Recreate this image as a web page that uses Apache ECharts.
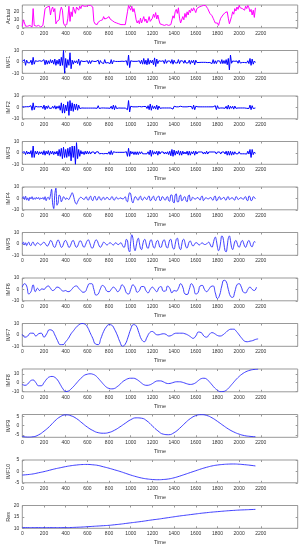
<!DOCTYPE html>
<html><head><meta charset="utf-8">
<script src="https://cdn.jsdelivr.net/npm/echarts@6/dist/echarts.min.js"></script>
<style>html,body{margin:0;padding:0;background:#fff}#c{width:302px;height:550px}</style>
</head><body><div id="c"></div>
<script>
// x tick labels
const xTicks = [0,200,400,600,800,1000,1200,1400,1600,1800,2000,2200];
const panelNames = ['Actual','IMF1','IMF2','IMF3','IMF4','IMF5','IMF6','IMF7','IMF8','IMF9','IMF10','Res'];

// Actual (step 10)
const actual = [
2,10,10,2,1,2,1,3,2,1,
24,3,1,2,1,3,2,1,2,3,
2,24,22,26,25,27,16,23,26,20,
24,5,8,6,10,21,26,22,6,3,
2,4,12,27,8,20,14,26,28,18,
26,27,22,27,24,28,26,27,28,27,
26,28,27,28,27,26,8,5,6,4,
7,6,9,7,10,14,11,13,12,10,
14,11,13,9,10,7,9,6,8,5,
6,4,5,4,6,4,5,20,28,26,
22,27,20,24,18,10,6,9,5,12,
6,10,14,8,11,6,9,14,8,10,
12,17,13,19,11,16,10,5,7,4,
6,3,5,4,6,3,5,4,6,15,
12,20,23,18,25,12,6,8,14,10,
18,13,20,16,22,19,24,21,25,22,
19,24,22,26,24,27,25,28,26,28,
27,24,22,18,20,15,12,9,6,4,
6,3,8,12,10,16,14,19,17,20,
12,5,7,14,20,17,24,21,26,23,
28,25,27,24,26,22,27,24,28,25,
20,23,16,22,13,25];

// IMF1 (step 10)
const imf1 = [
0.5,-1,2,-3,1.5,-0.8,0.5,-0.8,1.5,-2.5,
4,-2,1,-0.6,0.5,-0.8,1,-0.6,0.5,-1,
2,-2.5,1.5,-2,1,-1.5,2,-1,1.5,-2,
2.5,-3,1.5,-2,2.5,-3.5,4,-3,10,-10,
3,-5,2,-3,8,-6,1.5,-2,1,-0.8,
1,-1.5,2.5,-3,1,-0.5,0.4,-0.5,0.4,-0.6,
1,-1.5,1.2,-1.5,1,-0.6,0.4,-0.5,0.4,-0.8,
1.5,-2,1.2,-0.6,0.8,-1.5,2,-1,0.5,-0.6,
1,-1.5,2,-1.8,1,-0.6,0.4,-0.5,0.4,-0.5,
0.4,-0.5,0.6,-0.5,0.4,-0.6,1,-3,6,-5,
1,-0.6,0.5,-0.4,0.5,-0.6,0.5,-0.8,1,-1.5,
1.5,-2,3,-2,1.5,-2.5,3,-2,1.5,-1,
1.5,-2.5,3.5,-4,2.5,-1.5,1,-0.6,0.5,-0.8,
1,-1.5,2,-1.2,0.8,-0.6,0.8,-1.2,2,-2,
1.5,-0.8,0.6,-1,2,-1.5,1,-0.6,0.8,-1.2,
1.5,-1,0.6,-0.8,1.5,-2,1.2,-0.8,1.5,-2.5,
1.5,-0.6,0.4,-0.5,0.4,-0.4,0.5,-0.4,0.5,-0.4,
0.5,-0.6,0.4,-0.5,0.8,-1.5,2,-1.5,1,-1.5,
1,-0.6,0.8,-1.5,2,-1.5,1.2,-1.5,2,-2.5,
3,-7,6,-1.2,0.8,-0.6,0.5,-0.6,0.8,-1.2,
1.5,-1,0.6,-0.5,0.6,-0.5,0.6,-0.8,1,-1.5,
3,-3,2.5,-2,0.8,-0.5];

// IMF2 (step 10)
const imf2 = [
0.5,-0.6,0.5,-0.8,0.6,-0.5,0.6,-0.8,1.5,-2.5,
4,-2,1,-0.6,0.5,-0.6,0.5,-0.6,0.8,-1,
2,-2,1.2,-1,1.5,-0.8,0.6,-0.8,1,-0.8,
1.5,-1.5,1,-0.8,1.5,-2.5,4,-5,3,-5,
2,-3,5,-7,6,-3,4,-3.5,3,-2,
3,-2.5,2,-1,0.6,-0.5,1,-0.6,0.5,-0.6,
0.8,-0.6,1,-0.6,0.5,-0.6,0.5,-0.6,0.5,-0.8,
1.5,-1,0.6,-0.5,0.6,-0.5,1,-0.6,0.5,-0.6,
0.6,-0.8,1,-1.5,2,-2,1.5,-1,0.6,-0.5,
0.5,-0.6,0.5,-0.6,0.5,-0.6,0.8,-2,6,-4,
1,-0.6,0.5,-0.6,0.5,-0.6,0.5,-0.6,0.8,-0.6,
0.5,-0.6,0.8,-0.6,0.8,-1,1.5,-2,3,-2.5,
1.5,-1,1,-1.5,2,-2,1.2,-0.8,0.6,-0.5,
0.6,-0.5,0.6,-0.5,0.6,-0.5,0.6,-0.5,1,-1.5,
1,-0.6,0.5,-0.6,0.5,-0.6,1,-0.6,0.5,-0.6,
0.5,-0.6,0.5,-0.6,0.8,-0.6,0.8,-1.5,2,-2,
1,-0.6,0.5,-0.6,0.5,-0.6,0.5,-0.6,0.5,-0.6,
0.5,-0.6,0.5,-0.6,0.5,-0.6,0.5,-0.6,1.5,-2,
1.5,-0.8,0.6,-0.5,0.6,-0.5,0.6,-0.8,1,-1.5,
2,-1.5,1,-0.8,1,-1.5,1.2,-0.8,0.6,-0.5,
0.6,-0.5,0.6,-0.5,0.6,-0.5,0.6,-0.8,0.6,-1,
2,-2,1.5,-1,0.6,-0.5];

// IMF3 (step 10)
const imf3 = [
0.5,-0.8,1,-1.5,1.5,-1,0.8,-1,2,-4,
6,-4,1.5,-1,1.5,-1.5,1,-0.8,1,-1.5,
2,-2,1.5,-1,2,-2,1.5,-1,1.5,-1.5,
1,-1,1.5,-2.5,3,-3,4,-5,5,-4,
3,-4,4,-3,5,-7,6,-4,6,-10,
9,-5,3,-3,2,-1,1,-1.5,1.5,-1,
1.5,-1,1.2,-1,0.8,-0.6,0.8,-1,0.8,-0.6,
1,-0.8,0.6,-0.5,0.6,-0.8,0.6,-0.5,0.6,-0.8,
1,-1.5,2,-1.5,1,-0.6,0.5,-0.6,0.5,-0.6,
0.5,-0.6,0.5,-0.6,0.5,-0.6,1,-3,4,-3,
1.5,-0.8,1,-1.5,1,-1.5,1,-1.5,1,-0.8,
1,-0.8,0.6,-0.8,0.6,-0.8,1,-1.5,2.5,-3,
2,-1.2,1,-1,1.5,-2,1.5,-1,0.8,-0.6,
0.8,-1,0.8,-1,1,-1.5,1.5,-2.5,3,-3,
2.5,-2,1.5,-1,2,-2,1.5,-2,1.5,-1,
0.8,-1,1.5,-2,1.5,-2,1,-0.8,1.5,-2,
1.5,-1,0.8,-0.6,0.8,-0.6,0.8,-1,0.8,-1,
1.5,-1,0.8,-0.6,0.8,-0.6,0.8,-0.6,0.8,-1,
0.8,-0.6,0.8,-1,0.8,-0.6,0.8,-1,1.5,-2,
1.5,-2,1.5,-2,1,-1.5,1,-0.8,0.6,-0.8,
1,-0.8,0.6,-0.8,0.6,-0.8,0.6,-1,1.5,-1,
3,-4,3,-1.5,0.8,-0.5];

// IMF4 (step 10)
const imf4 = [
0,1.5,-1,2,-1.5,0.5,-2,1,-0.5,1.5,
-1,0.5,-0.8,1,-0.5,0.8,-1,0.5,-0.5,0.8,
-1,1.5,-2,0.5,1,-1,3,8,-5,-9,
4,9,-6,-4,3,2,-3,-1,1.5,0.5,
-1,0.5,-0.5,-1,1,3,5,3,-1,-4,
-5,-3,-1,0.5,1,0.5,-0.5,-1,0.5,1.5,
-1,-1.5,1,2,-1,-2,1,2,-1,-1.5,
1,1.5,-1,-1.5,0.5,1,-1,-0.5,1,0.5,
-1,-1,1,1.5,-1,-1.5,0.5,1,-0.5,-0.5,
0.5,0.3,-0.3,-0.5,0.5,1.5,-2,-3,2,5,
4,-2,-4,-1,1.5,1,-1,-1.5,1,2,
-1,-1.5,0.5,1,-0.5,-1,1.5,2,-2,-1.5,
1,2,-1,-2,0.5,1.5,2,-2,-1.5,1.5,
1,-1,-1.5,1,1.5,-2,-2.5,3,3,-3,
-4,3,4,-3,-3,2,3,-2,-1.5,1,
1.5,-2,-3,2,3,-2,-1.5,1,0.5,-0.5,
-0.5,0.5,0.8,-0.5,-1.5,1.5,2,-2,-1,0.5,
0.5,-0.5,-0.3,0.5,0.8,-1,-1.5,1.5,2,-2,
-1.5,1,1.5,-1,-0.5,0.5,1,-1,-1.5,1,
1.5,-1,-0.5,0.5,0.5,-1,-1.5,1.5,1,-1,
-0.5,0.5,0.5,-0.5,-0.8,1,1.5,-1.5,-2,2,
1.5,-2,-1.5,1.5,1,-0.5];

// IMF5 (step 10)
const imf5 = [
0,1.5,-1,1,-1.5,0.5,1.5,-1,-1.5,1,
1.5,-0.5,-1.5,0,1,0.5,-0.5,-1,0,1,
1.5,0.5,-1,-2,-1,1,3,2.5,0,-2.5,
-3,-1,2,3.5,2,-1,-3,-2.5,0,2.5,
3,1.5,-1,-3,-2.5,0,2.5,3,1,-2,
-3,-2,0.5,2.5,2.5,0.5,-2,-3,-1.5,1,
3,3.5,1.5,-1.5,-3.5,-3.5,-1,2,3.5,3,
0.5,-2,-3,-2,0,1.5,1,0,-1,-0.5,
0.5,1,0.5,-0.5,-1,0,1,0.5,-0.5,-0.5,
0.5,1,-0.5,-2.5,-3,0,4,3,-5,-7,
2,8,5,-3,-6,-2,3,5,1,-4,
-5,-1,3,4,1,-3,-4,-1,3,3.5,
0.5,-3,-3.5,-0.5,2.5,3,0,-3,-3,0,
3,3.5,0.5,-3,-3.5,0,3.5,4,0,-4,
-4.5,-0.5,4,5,1,-4,-5,-1,3.5,4,
1,-3,-3.5,-1,2,2.5,0.5,-1.5,-1.5,0,
1,1,0,-1,-0.5,0.5,1,0,-0.5,-0.5,
0,1,1.5,0,-2,-3,0,4,6,3,
-3,-6,-4,2,7,6,0,-6,-7,-2,
5,7,3,-3,-5,-2,2,3,1,-2,
-3,-1,2,3,1,-2,-3,-1,2,3,
1,-2,-2.5,0,2,1.5];

// IMF6 (step 20)
const imf6 = [
2,5,3,-4,-2,4,-2,1,-1,0.5,
0,2,3,1,-1,0,2,1.5,-0.5,-1.5,
-1,-2,-1.5,0.5,2.5,3,1,-1,-2.5,-2,
2,5,5,0,-5,-4,0.5,3.5,2,-1.5,
-2,0,2,0.5,-2,0,4,2,-3,-4,
0,4,2,-2.5,-1,2.5,2.5,-1,-3,0,
2,0,-2,1.5,2.5,-1.5,-1.5,3,1,-3,
-1,-1.5,1,5,2,-4,-4.5,0,5,2,
-4,-3,3,3.5,0,-2,0,2.5,3,-3,
-8,-5,3,8,7,0,-6,-7,-2,4,
5,2,-2.5,-3,0,2,0,-1,2];

// IMF7 (step 25)
const imf7 = [
0.5,-2,-1,1.5,1.5,-1,1,1.5,-2,1,
4.5,4,0,-5,-8.5,-8.5,-6,-3,1,4,
7,9,10,9.5,7,2,-3,-8,-8.5,-3,
3,7,9,8.5,5,0,-6,-10,-8,-2,
5,9,8,2,-4,-6,-2,2,3,1,
0,0.5,1,0.5,-1,-0.5,1,1.5,1.5,1.5,
1,0,-1.5,-3,-1,2.5,2,-1,-2,0.5,
2,1,-0.5,-1,0,2,4,5,5,3,
0,-3,-5.5,-6,-5.5,-5,-4,-3.5];

// IMF8 (step 25)
const imf8 = [
-2,-3,-1.5,2,3,0,-3.5,-3.5,0,4,
6.5,7,6,3,-2,-7,-10,-9.5,-7,-4,
-0.5,3,6,8.5,9.5,10,9.5,8,5,1.5,
-2,-5,-6.5,-7,-6.5,-4.5,-2,1,3,4.5,
5,5,4,2,-0.5,-2.5,-3,-2.5,-1,1,
2,2,1,-0.5,-1,-0.5,0.5,1,1,0.5,
-0.5,-1.5,-2,-1.5,0,2.5,4.5,5,4,1,
-2.5,-6,-8.5,-10,-10,-9,-6.5,-3,0.5,4,
7,9.5,11.5,13,14,14.7,15,15.2];

// IMF9 (step 50)
const imf9 = [
-5.8,-6.2,-6,-5,-3,-0.5,2.5,4.8,5.8,5.3,
3.8,1.5,-0.8,-2.6,-3.8,-4.1,-3.7,-2.5,-0.7,1.3,
3.2,4.2,4,2.5,-0.2,-2.8,-4.6,-4.9,-3.8,-1.5,
1.3,3.8,5.4,5.9,5.5,4.2,2.3,0.2,-1.8,-3.4,
-4.6,-5.4,-5.8,-6];

// IMF10 (step 50)
const imf10 = [
-1.6,-1.4,-1.1,-0.6,-0.1,0.5,1.1,1.6,2.1,2.5,
2.8,3,3.05,2.9,2.6,2,1.4,0.7,0,-0.8,
-1.6,-2.3,-2.9,-3.3,-3.55,-3.65,-3.55,-3.3,-2.8,-2.1,
-1.3,-0.5,0.3,1.1,1.8,2.4,2.8,3.05,3.2,3.25,
3.15,2.95,2.7,2.4];

// Res (step 50)
const res = [
10.3,10.3,10.3,10.3,10.3,10.3,10.3,10.3,10.3,10.35,
10.45,10.55,10.7,10.85,11,11.15,11.3,11.55,11.8,12.1,
12.4,12.7,13,13.35,13.7,14,14.35,14.7,15.05,15.4,
15.7,16,16.3,16.6,16.85,17.1,17.3,17.5,17.7,17.85,
18,18.1,18.2,18.3];

// y tick labels per panel
const yTicks = [[0,10,20],[-10,0,10],[-10,0,10],[-10,0,10],[-10,0,10],[-10,0,10],[-10,0,10],[-10,0,10],[-10,0,10],[-5,0,5],[-5,0,5],[10,15,20]];
const yRanges = [[0,28.5],[-10,10],[-10,10],[-10,10],[-10,10],[-10,10],[-10,10],[-10,10],[-10.3,15.4],[-6.3,6],[-5,5],[10,20]];
const seriesData = [actual,imf1,imf2,imf3,imf4,imf5,imf6,imf7,imf8,imf9,imf10,res];
const steps = [10,10,10,10,10,10,20,25,25,50,50,50];
const smoothFlags = [false,false,false,false,0.3,0.4,true,true,true,true,true,true];

function pairs(step, vals){ return vals.map((v,i)=>[i*step, v]); }

const chart = echarts.init(document.getElementById('c'), null, {renderer:'canvas'});
const grids=[], xAxes=[], yAxes=[], series=[];
const txt = '#333', axc = '#999', ff = 'Liberation Sans';
const plain = v => String(v);
panelNames.forEach((nm,i)=>{
  const top = 5 + 45.5*i;
  grids.push({left:22.3, right:4.3, top:top, height:22.8, show:true, borderColor:axc, borderWidth:1,
    backgroundColor:'#fff', containLabel:false, outerBoundsMode:'none'});
  xAxes.push({type:'value', gridIndex:i, min:0, max:2540, position:'bottom',
    axisLine:{show:false, onZero:false}, splitLine:{show:false},
    axisTick:{inside:true, length:2, lineStyle:{color:axc}, customValues:xTicks},
    axisLabel:{customValues:xTicks, formatter:plain, fontSize:5, margin:3, color:txt, fontFamily:ff},
    name:'Time', nameLocation:'middle', nameGap:11.5, nameMoveOverlap:false,
    nameTextStyle:{fontSize:5.5, color:txt, fontFamily:ff}});
  xAxes.push({type:'value', gridIndex:i, min:0, max:2540, position:'top',
    axisLine:{show:false, onZero:false}, splitLine:{show:false},
    axisTick:{inside:true, length:2, lineStyle:{color:axc}, customValues:xTicks},
    axisLabel:{show:false}});
  yAxes.push({type:'value', gridIndex:i, min:yRanges[i][0], max:yRanges[i][1], position:'left',
    axisLine:{show:false, onZero:false}, splitLine:{show:false},
    axisTick:{inside:true, length:2, lineStyle:{color:axc}, customValues:yTicks[i]},
    axisLabel:{customValues:yTicks[i], formatter:plain, fontSize:5, margin:3, color:txt, fontFamily:ff},
    name:nm, nameLocation:'middle', nameGap:10.5, nameMoveOverlap:false,
    nameTextStyle:{fontSize:5.5, color:txt, fontFamily:ff}});
  yAxes.push({type:'value', gridIndex:i, min:yRanges[i][0], max:yRanges[i][1], position:'right',
    axisLine:{show:false, onZero:false}, splitLine:{show:false},
    axisTick:{inside:true, length:2, lineStyle:{color:axc}, customValues:yTicks[i]},
    axisLabel:{show:false}});
  const col = i===0 ? '#ff00ff' : (i<4 ? '#0000ff' : '#2a2aff');
  series.push({type:'line', xAxisIndex:2*i, yAxisIndex:2*i, data:pairs(steps[i], seriesData[i]),
    showSymbol:false, smooth:smoothFlags[i], clip:true,
    lineStyle:{width: i<4 ? 1 : 0.9, color: col}, itemStyle:{color: col}});
});
chart.setOption({animation:false, backgroundColor:'#fff', grid:grids, xAxis:xAxes, yAxis:yAxes, series:series});
</script></body></html>
